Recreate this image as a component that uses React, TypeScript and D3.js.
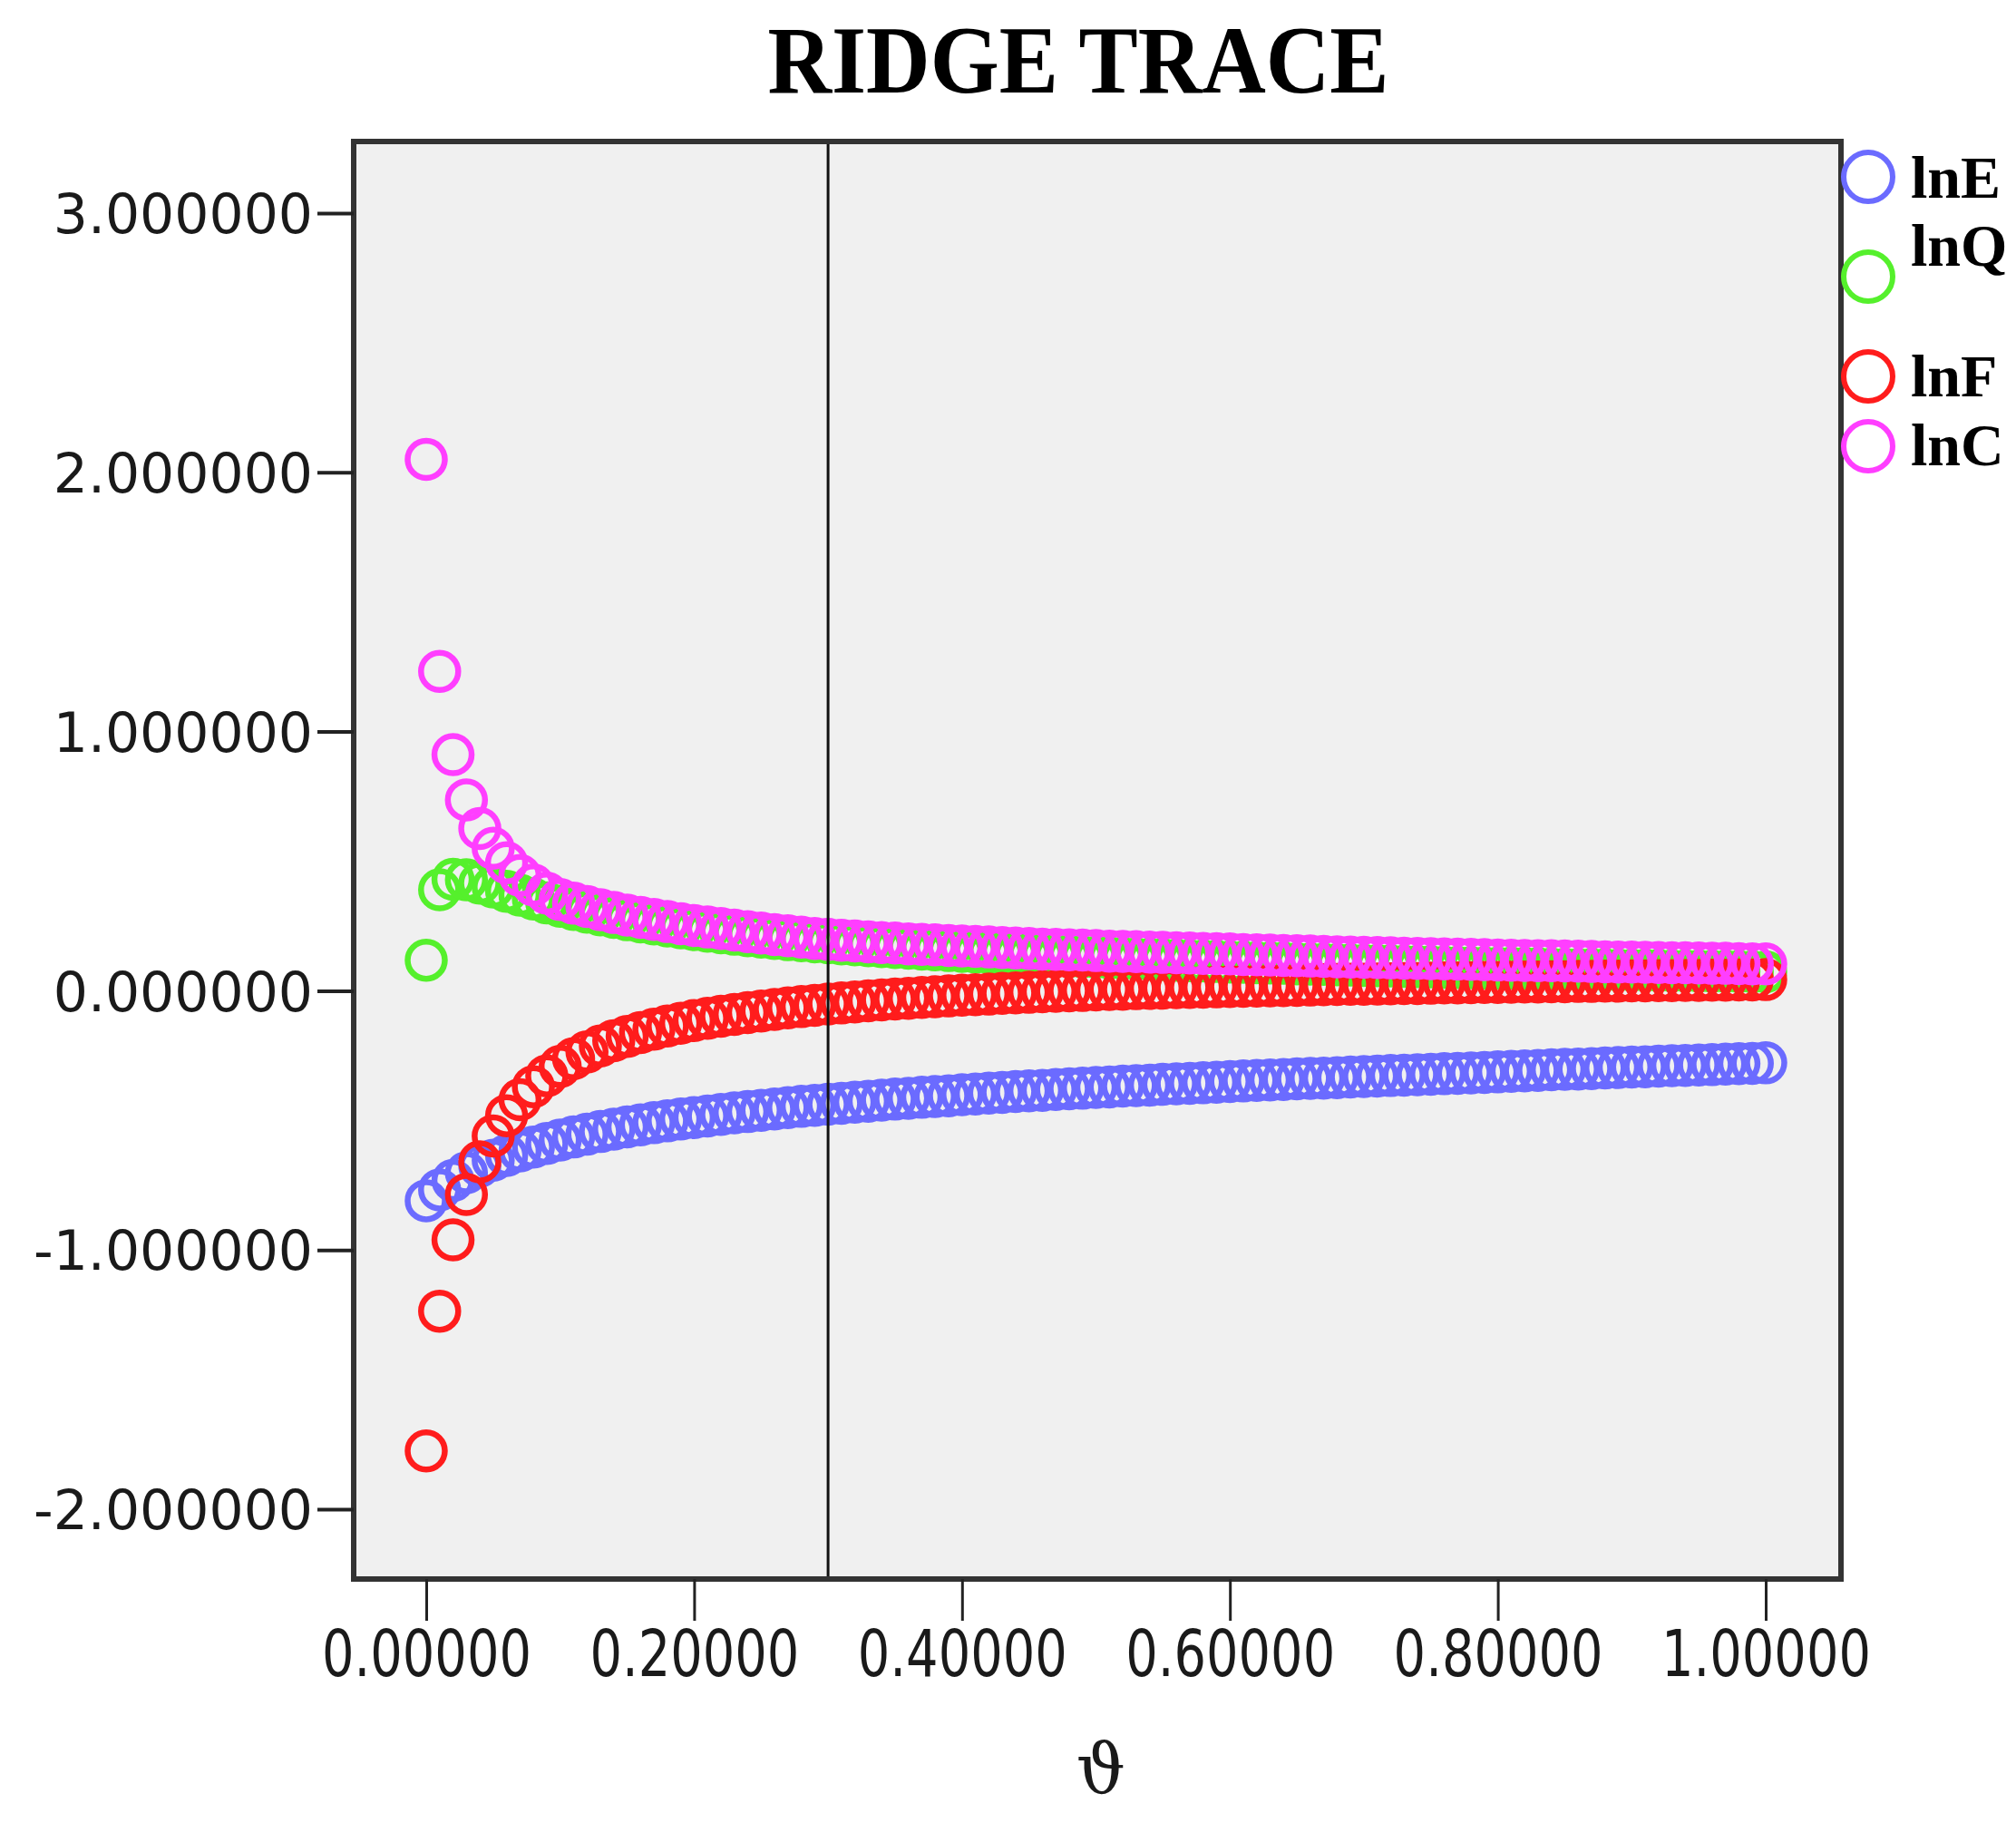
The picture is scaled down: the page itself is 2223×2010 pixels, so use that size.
import React, { useRef, useEffect } from "react";
import * as d3 from "d3";

// ridge parameter k (x axis)
const kValues = [
  0.00, 0.01, 0.02, 0.03, 0.04, 0.05, 0.06, 0.07, 0.08, 0.09,
  0.10, 0.11, 0.12, 0.13, 0.14, 0.15, 0.16, 0.17, 0.18, 0.19,
  0.20, 0.21, 0.22, 0.23, 0.24, 0.25, 0.26, 0.27, 0.28, 0.29,
  0.30, 0.31, 0.32, 0.33, 0.34, 0.35, 0.36, 0.37, 0.38, 0.39,
  0.40, 0.41, 0.42, 0.43, 0.44, 0.45, 0.46, 0.47, 0.48, 0.49,
  0.50, 0.51, 0.52, 0.53, 0.54, 0.55, 0.56, 0.57, 0.58, 0.59,
  0.60, 0.61, 0.62, 0.63, 0.64, 0.65, 0.66, 0.67, 0.68, 0.69,
  0.70, 0.71, 0.72, 0.73, 0.74, 0.75, 0.76, 0.77, 0.78, 0.79,
  0.80, 0.81, 0.82, 0.83, 0.84, 0.85, 0.86, 0.87, 0.88, 0.89,
  0.90, 0.91, 0.92, 0.93, 0.94, 0.95, 0.96, 0.97, 0.98, 0.99,
  1.00
];

const lnE = [
  -0.810, -0.768, -0.732, -0.702, -0.676, -0.654, -0.635, -0.618, -0.603, -0.589,
  -0.576, -0.564, -0.553, -0.543, -0.534, -0.525, -0.517, -0.509, -0.502, -0.495,
  -0.489, -0.483, -0.477, -0.471, -0.466, -0.461, -0.456, -0.451, -0.446, -0.442,
  -0.438, -0.434, -0.430, -0.426, -0.422, -0.418, -0.415, -0.411, -0.408, -0.405,
  -0.401, -0.398, -0.395, -0.392, -0.389, -0.386, -0.384, -0.381, -0.378, -0.376,
  -0.373, -0.371, -0.368, -0.366, -0.364, -0.361, -0.359, -0.357, -0.355, -0.353,
  -0.350, -0.348, -0.346, -0.344, -0.342, -0.340, -0.338, -0.337, -0.335, -0.333,
  -0.331, -0.329, -0.327, -0.326, -0.324, -0.322, -0.320, -0.319, -0.317, -0.315,
  -0.313, -0.311, -0.309, -0.307, -0.305, -0.303, -0.302, -0.300, -0.298, -0.296,
  -0.294, -0.293, -0.291, -0.289, -0.288, -0.286, -0.285, -0.283, -0.281, -0.280,
  -0.278
];

const lnQ = [
  0.118, 0.390, 0.430, 0.428, 0.415, 0.400, 0.384, 0.369, 0.354, 0.339,
  0.326, 0.314, 0.303, 0.293, 0.283, 0.274, 0.266, 0.258, 0.250, 0.243,
  0.236, 0.230, 0.224, 0.218, 0.212, 0.207, 0.202, 0.197, 0.193, 0.189,
  0.185, 0.181, 0.177, 0.174, 0.170, 0.167, 0.164, 0.161, 0.158, 0.155,
  0.152, 0.149, 0.147, 0.144, 0.142, 0.140, 0.137, 0.135, 0.133, 0.131,
  0.129, 0.127, 0.125, 0.123, 0.121, 0.120, 0.118, 0.116, 0.115, 0.113,
  0.111, 0.110, 0.108, 0.107, 0.106, 0.104, 0.103, 0.102, 0.100, 0.099,
  0.098, 0.097, 0.096, 0.094, 0.093, 0.092, 0.091, 0.090, 0.089, 0.088,
  0.087, 0.087, 0.086, 0.085, 0.084, 0.083, 0.082, 0.082, 0.081, 0.080,
  0.079, 0.079, 0.078, 0.077, 0.077, 0.076, 0.075, 0.075, 0.074, 0.073,
  0.073
];

const lnF = [
  -1.775, -1.236, -0.961, -0.786, -0.660, -0.560, -0.482, -0.420, -0.370, -0.328,
  -0.292, -0.262, -0.236, -0.213, -0.193, -0.176, -0.161, -0.148, -0.136, -0.125,
  -0.115, -0.106, -0.098, -0.091, -0.084, -0.078, -0.072, -0.066, -0.061, -0.056,
  -0.051, -0.047, -0.043, -0.039, -0.035, -0.032, -0.029, -0.026, -0.023, -0.020,
  -0.017, -0.015, -0.013, -0.010, -0.008, -0.006, -0.004, -0.002, 0.000, 0.001,
  0.003, 0.005, 0.006, 0.008, 0.009, 0.010, 0.012, 0.013, 0.014, 0.015,
  0.016, 0.017, 0.018, 0.019, 0.020, 0.021, 0.022, 0.023, 0.024, 0.025,
  0.025, 0.026, 0.027, 0.028, 0.028, 0.029, 0.030, 0.030, 0.031, 0.032,
  0.032, 0.033, 0.034, 0.034, 0.035, 0.035, 0.036, 0.036, 0.037, 0.037,
  0.038, 0.038, 0.039, 0.039, 0.040, 0.040, 0.041, 0.041, 0.042, 0.042,
  0.043
];

const lnC = [
  2.050, 1.232, 0.911, 0.736, 0.626, 0.550, 0.494, 0.445, 0.408, 0.377,
  0.352, 0.338, 0.325, 0.313, 0.302, 0.292, 0.283, 0.275, 0.267, 0.259,
  0.252, 0.246, 0.240, 0.234, 0.228, 0.223, 0.217, 0.212, 0.207, 0.202,
  0.198, 0.195, 0.192, 0.189, 0.186, 0.184, 0.181, 0.179, 0.177, 0.175,
  0.173, 0.171, 0.169, 0.167, 0.165, 0.163, 0.161, 0.160, 0.158, 0.157,
  0.155, 0.153, 0.152, 0.151, 0.149, 0.148, 0.147, 0.146, 0.144, 0.143,
  0.142, 0.140, 0.139, 0.138, 0.136, 0.135, 0.134, 0.133, 0.131, 0.130,
  0.129, 0.128, 0.127, 0.126, 0.125, 0.124, 0.123, 0.122, 0.121, 0.120,
  0.119, 0.118, 0.117, 0.116, 0.116, 0.115, 0.114, 0.113, 0.112, 0.111,
  0.111, 0.110, 0.109, 0.108, 0.108, 0.107, 0.106, 0.106, 0.105, 0.104,
  0.104
];

const seriesNames = ["lnE", "lnQ", "lnF", "lnC"];
const seriesValues = [lnE, lnQ, lnF, lnC];
const seriesColors = ["#6b6bff", "#55f02c", "#ff1c1c", "#ff3eff"];

const xTicks = [0, 0.2, 0.4, 0.6, 0.8, 1.0];
const xTickLabels = ["0.00000", "0.20000", "0.40000", "0.60000", "0.80000", "1.00000"];
const yTicks = [3, 2, 1, 0, -1, -2];
const yTickLabels = ["3.000000", "2.000000", "1.000000", "0.000000", "-1.000000", "-2.000000"];
const refK = 0.3;

const W = 2223;
const H = 2010;
const frame = { left: 390, right: 2030, top: 156, bottom: 1741 };

const RidgeTrace = () => {
  const chart = useRef(null);

  useEffect(() => {
    const svg = d3.select(chart.current);
    svg.selectAll("*").remove();

    const x = d3.scaleLinear().domain([0, 1]).range([470, 1947]);
    const y = d3.scaleLinear().domain([-2, 3]).range([1664, 235]);

    svg.append("rect").attr("width", W).attr("height", H).attr("fill", "#ffffff");

    // title
    svg.append("text")
      .attr("x", 1189).attr("y", 102)
      .attr("text-anchor", "middle")
      .attr("font-family", "'Liberation Serif', 'DejaVu Serif', serif")
      .attr("font-weight", "bold")
      .attr("font-size", 106)
      .attr("textLength", 685).attr("lengthAdjust", "spacingAndGlyphs")
      .attr("fill", "#000")
      .text("RIDGE TRACE");

    // plot area
    svg.append("rect")
      .attr("x", frame.left).attr("y", frame.top)
      .attr("width", frame.right - frame.left).attr("height", frame.bottom - frame.top)
      .attr("fill", "#f0f0f0");

    // points, one group per series
    seriesValues.forEach((vals, si) => {
      svg.append("g")
        .attr("fill", "none")
        .attr("stroke", seriesColors[si])
        .attr("stroke-width", 6.5)
        .selectAll("circle")
        .data(vals)
        .join("circle")
        .attr("cx", (d, i) => x(kValues[i]))
        .attr("cy", d => y(d))
        .attr("r", 20.5);
    });

    // reference line at chosen k
    svg.append("line")
      .attr("x1", x(refK)).attr("x2", x(refK))
      .attr("y1", frame.top).attr("y2", frame.bottom)
      .attr("stroke", "#111").attr("stroke-width", 3);

    svg.append("rect")
      .attr("x", frame.left).attr("y", frame.top)
      .attr("width", frame.right - frame.left).attr("height", frame.bottom - frame.top)
      .attr("fill", "none")
      .attr("stroke", "#333").attr("stroke-width", 6);

    // y axis
    const yAxis = svg.append("g")
      .attr("transform", "translate(" + frame.left + ",0)")
      .call(d3.axisLeft(y).tickValues(yTicks).tickSize(40).tickPadding(5).tickSizeOuter(0)
        .tickFormat((d, i) => yTickLabels[i]));
    yAxis.select(".domain").remove();
    yAxis.selectAll(".tick line").attr("stroke", "#222").attr("stroke-width", 4);
    yAxis.selectAll(".tick text")
      .attr("font-family", "'DejaVu Sans', Verdana, sans-serif")
      .attr("font-size", 60)
      .attr("dy", "0.36em")
      .attr("fill", "#1a1a1a");

    // x axis
    const xAxis = svg.append("g")
      .attr("transform", "translate(0," + frame.bottom + ")")
      .call(d3.axisBottom(x).tickValues(xTicks).tickSize(46).tickPadding(10).tickSizeOuter(0)
        .tickFormat((d, i) => xTickLabels[i]));
    xAxis.select(".domain").remove();
    xAxis.selectAll(".tick line").attr("stroke", "#222").attr("stroke-width", 3);
    xAxis.selectAll(".tick text")
      .attr("font-family", "'DejaVu Sans', Verdana, sans-serif")
      .attr("font-size", 72)
      .attr("textLength", 231).attr("lengthAdjust", "spacingAndGlyphs")
      .attr("fill", "#1a1a1a");

    // x axis title
    svg.append("text")
      .attr("x", (frame.left + frame.right) / 2 + 4).attr("y", 1976)
      .attr("text-anchor", "middle")
      .attr("font-family", "'DejaVu Serif', serif")
      .attr("font-size", 76)
      .attr("fill", "#1a1a1a")
      .text("ϑ");

    // legend
    const legendY = [195, 305, 415, 492];
    const legendTextY = [218, 293, 437, 513];
    seriesNames.forEach((name, i) => {
      svg.append("circle")
        .attr("cx", 2060).attr("cy", legendY[i]).attr("r", 27)
        .attr("fill", "none").attr("stroke", seriesColors[i]).attr("stroke-width", 6);
      svg.append("text")
        .attr("x", 2107).attr("y", legendTextY[i])
        .attr("font-family", "'Liberation Serif', 'DejaVu Serif', serif")
        .attr("font-weight", "bold")
        .attr("font-size", 66)
        .attr("fill", "#000")
        .text(name);
    });
  }, []);

  return (
    <div>
      <style>{"body{margin:0}"}</style>
      <svg ref={chart} width={W} height={H} style={{ display: "block" }} />
    </div>
  );
};

export default function App() {
  return <RidgeTrace />;
}
